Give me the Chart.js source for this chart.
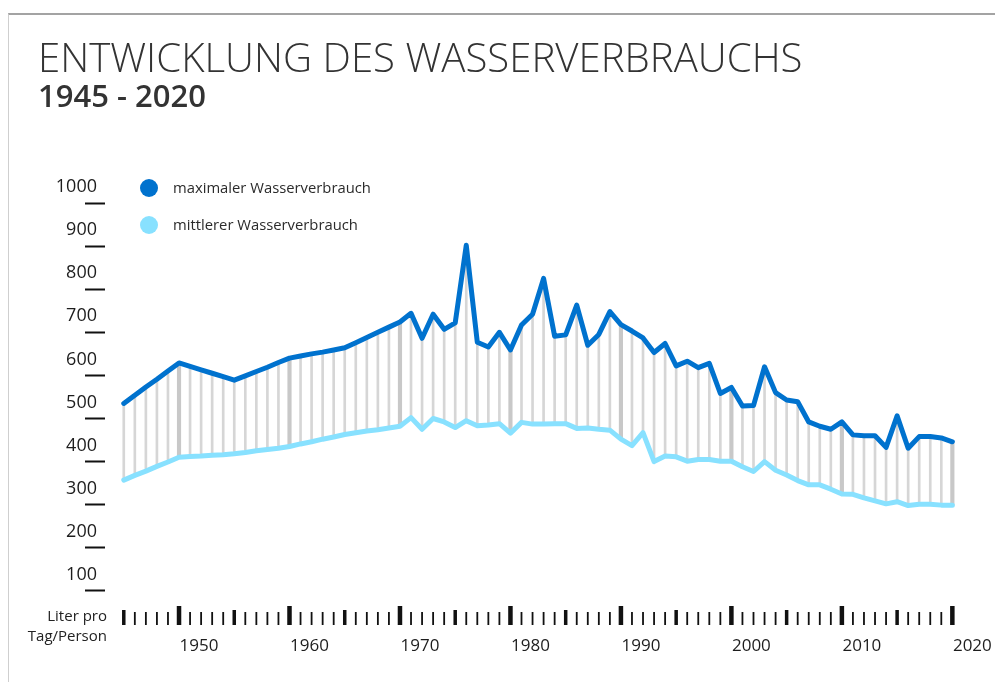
<!DOCTYPE html>
<html>
<head>
<meta charset="utf-8">
<script src="https://cdn.jsdelivr.net/npm/chart.js@4/dist/chart.umd.min.js"></script>
<style>
  html, body { margin: 0; padding: 0; background: #fff; }
  body { width: 995px; height: 682px; position: relative; overflow: hidden; font-family: "Open Sans", sans-serif; }
  #frame { position: absolute; left: 8px; top: 13px; width: 1000px; height: 700px; border-top: 2px solid #a3a3a3; border-left: 1px solid #cfcfcf; }
  #title { position: absolute; left: 38px; top: 37px; font-size: 40.2px; line-height: 1; font-weight: 300; color: #333; white-space: nowrap; }
  #subtitle { position: absolute; left: 38px; top: 80px; font-size: 31px; line-height: 1; font-weight: 600; color: #333; white-space: nowrap; }
  #unit { position: absolute; right: 888px; top: 605px; font-size: 15px; line-height: 20px; color: #222; text-align: right; white-space: nowrap; }
  #wrap { position: absolute; left: 0; top: 0; width: 995px; height: 682px; }
</style>
</head>
<body>
<div id="frame"></div>
<div id="wrap"><canvas id="waterChart"></canvas></div>
<div id="title">ENTWICKLUNG DES WASSERVERBRAUCHS</div>
<div id="subtitle">1945 - 2020</div>
<div id="unit">Liter pro<br>Tag/Person</div>
<script>
// Jahre und Werte (Liter pro Tag/Person)
const years = [1945, 1946, 1947, 1948, 1949, 1950, 1951, 1952, 1953, 1954,
  1955, 1956, 1957, 1958, 1959, 1960, 1961, 1962, 1963, 1964,
  1965, 1966, 1967, 1968, 1969, 1970, 1971, 1972, 1973, 1974,
  1975, 1976, 1977, 1978, 1979, 1980, 1981, 1982, 1983, 1984,
  1985, 1986, 1987, 1988, 1989, 1990, 1991, 1992, 1993, 1994,
  1995, 1996, 1997, 1998, 1999, 2000, 2001, 2002, 2003, 2004,
  2005, 2006, 2007, 2008, 2009, 2010, 2011, 2012, 2013, 2014,
  2015, 2016, 2017, 2018, 2019, 2020];

const maxValues = [535, 554, 573, 591, 610, 629, 621, 613, 605, 597,
  589, 599, 609, 619, 630, 640, 645, 650, 654, 659,
  664, 676, 688, 700, 712, 724, 744, 686, 742, 707,
  722, 902, 677, 666, 700, 659, 717, 742, 825, 691,
  694, 763, 670, 695, 748, 718, 703, 687, 653, 674,
  622, 633, 618, 628, 558, 572, 529, 530, 620, 560,
  543, 539, 492, 482, 475, 492, 462, 460, 460, 433,
  506, 431, 458, 458, 455, 446];

const meanValues = [357, 368, 378, 389, 399, 410, 412, 413, 415, 416,
  418, 421, 425, 428, 431, 435, 441, 446, 452, 457,
  463, 467, 471, 474, 478, 482, 502, 475, 500, 492,
  479, 495, 483, 485, 488, 466, 491, 487, 487, 488,
  488, 477, 478, 475, 473, 452, 437, 467, 400, 413,
  411, 401, 405, 405, 401, 401, 388, 377, 400, 380,
  369, 356, 346, 346, 336, 325, 324, 316, 309, 302,
  307, 298, 301, 301, 299, 299];

const seriesLabels = ['maximaler Wasserverbrauch', 'mittlerer Wasserverbrauch'];
const yTickValues = [100, 200, 300, 400, 500, 600, 700, 800, 900, 1000];
const xTickValues = [1950, 1960, 1970, 1980, 1990, 2000, 2010, 2020];

const maxColor = '#0072ce';
const meanColor = '#88e1ff';

// graue Verbindungslinien zwischen Mittel und Maximum (Jahrzehnte dicker)
const thinRange = [];
const decadeRange = [];
years.forEach((yr, i) => {
  const item = { x: yr, y: [meanValues[i], maxValues[i]] };
  if (yr % 10 === 0) decadeRange.push(item); else thinRange.push(item);
});

// Jahres-Striche unter dem Diagramm
const yearTicks = {
  id: 'yearTicks',
  afterDraw(chart) {
    const { ctx, scales } = chart;
    const base = scales.y.getPixelForValue(0) - 9;
    ctx.save();
    ctx.fillStyle = '#111';
    years.forEach(yr => {
      const px = scales.x.getPixelForValue(yr);
      let w = 1.8, h = 13;
      if (yr % 10 === 0) { w = 4.5; h = 19; }
      else if (yr % 5 === 0) { w = 3.5; h = 15; }
      ctx.fillRect(px - w / 2, base - h, w, h);
    });
    ctx.restore();
  }
};

// Legende mit Punkten oben links
const dotLegend = {
  id: 'dotLegend',
  afterDraw(chart) {
    const { ctx, chartArea } = chart;
    const lines = chart.data.datasets.filter(d => d.type === 'line');
    ctx.save();
    lines.forEach((ds, i) => {
      const cx = chartArea.left + 44;
      const cy = chartArea.top - 15 + i * 37;
      ctx.beginPath();
      ctx.arc(cx, cy, 9, 0, Math.PI * 2);
      ctx.fillStyle = ds.borderColor;
      ctx.fill();
      ctx.fillStyle = '#2b2b2b';
      ctx.font = '14.8px "Open Sans"';
      ctx.textBaseline = 'middle';
      ctx.fillText(ds.label, cx + 24, cy + 1);
    });
    ctx.restore();
  }
};

const ctx = document.getElementById('waterChart').getContext('2d');
new Chart(ctx, {
  type: 'line',
  data: {
    datasets: [
      {
        type: 'line',
        label: seriesLabels[0],
        data: years.map((x, i) => ({ x: x, y: maxValues[i] })),
        borderColor: maxColor,
        borderWidth: 5,
        borderJoinStyle: 'round',
        borderCapStyle: 'round',
        pointRadius: 0,
        tension: 0,
        order: 0
      },
      {
        type: 'line',
        label: seriesLabels[1],
        data: years.map((x, i) => ({ x: x, y: meanValues[i] })),
        borderColor: meanColor,
        borderWidth: 5,
        borderJoinStyle: 'round',
        borderCapStyle: 'round',
        pointRadius: 0,
        tension: 0,
        order: 1
      },
      {
        type: 'bar',
        data: thinRange,
        backgroundColor: '#d6d6d6',
        barThickness: 2,
        grouped: false,
        order: 3
      },
      {
        type: 'bar',
        data: decadeRange,
        backgroundColor: '#c8c8c8',
        barThickness: 3.5,
        grouped: false,
        order: 2
      }
    ]
  },
  options: {
    responsive: true,
    maintainAspectRatio: false,
    animation: false,
    layout: { padding: { top: 203, left: 0, right: 20, bottom: 18 } },
    plugins: {
      legend: { display: false },
      tooltip: { enabled: false }
    },
    scales: {
      x: {
        type: 'linear',
        min: 1943.3,
        max: 2022.05,
        offset: false,
        border: { display: false },
        grid: { display: false, drawTicks: false },
        ticks: {
          autoSkip: false,
          maxRotation: 0,
          labelOffset: 20,
          padding: 2,
          color: '#1d1d1d',
          font: { family: 'Open Sans', size: 17 },
          callback: v => String(v)
        },
        afterBuildTicks: s => { s.ticks = xTickValues.map(v => ({ value: v })); },
        afterFit: s => { s.height = 30; s.paddingLeft = 0; s.paddingRight = 0; }
      },
      y: {
        min: 0,
        max: 1000,
        border: { display: false },
        grid: {
          drawOnChartArea: false,
          drawTicks: true,
          tickLength: 20,
          tickWidth: 2,
          tickColor: '#111'
        },
        ticks: {
          padding: -12,
          labelOffset: -16,
          color: '#1d1d1d',
          font: { family: 'Open Sans', size: 18 },
          callback: v => String(v)
        },
        afterBuildTicks: s => { s.ticks = yTickValues.map(v => ({ value: v })); },
        afterFit: s => { s.width = 105; s.paddingTop = 0; s.paddingBottom = 0; }
      }
    }
  },
  plugins: [yearTicks, dotLegend]
});
</script>
</body>
</html>
